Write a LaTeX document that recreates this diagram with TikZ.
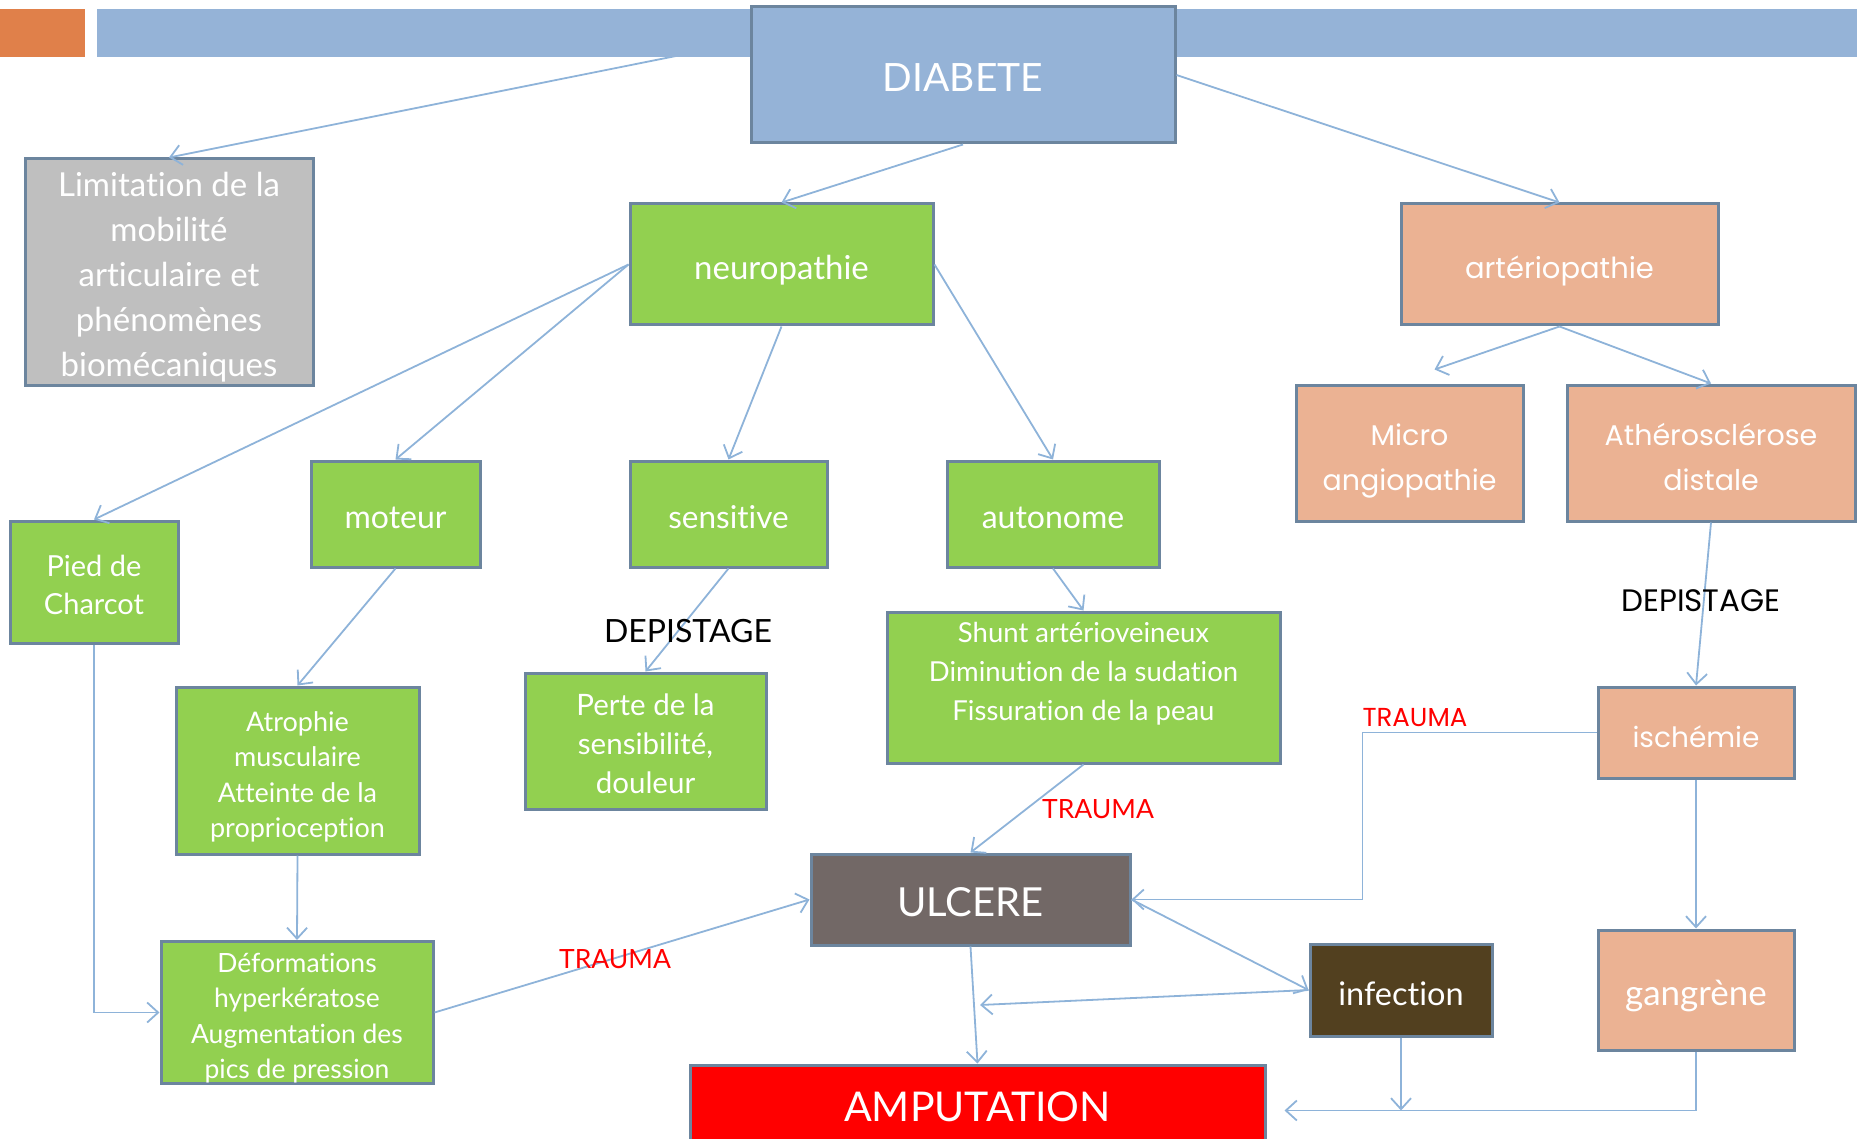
\documentclass[tikz,border=0pt]{standalone}
\usepackage{fontspec}
\usetikzlibrary{arrows.meta,calc}
\setmainfont{Lato}
\newfontfamily\tw[Ligatures={NoCommon}]{Lato}
\newfontfamily\cg[Ligatures={NoCommon}]{Poppins}
\definecolor{bandblue}{HTML}{95B3D7}
\definecolor{bandorange}{HTML}{E0804A}
\definecolor{edge}{HTML}{6C859E}
\definecolor{gfill}{HTML}{92D050}
\definecolor{grayfill}{HTML}{BFBFBF}
\definecolor{ofill}{HTML}{EBB293}
\definecolor{ufill}{HTML}{726866}
\definecolor{ifill}{HTML}{52401F}
\definecolor{conn}{HTML}{8EB3D9}
\newcommand{\fs}[2]{\fontsize{#1}{#2}\selectfont}
\newcommand{\T}[2][-7pt]{\raisebox{#1}[\height][\depth]{\begin{tabular}{@{}c@{}}#2\end{tabular}}}
\tikzset{
  box/.style={draw=edge, line width=3pt, inner sep=0pt, text=white},
  gbox/.style={box, fill=gfill},
  obox/.style={box, fill=ofill},
  link/.style={draw=conn, line width=1.8pt, -{Straight Barb[length=11pt,width=20pt,line width=1.8pt]}},
  redlab/.style={text=red, inner sep=0pt},
  blklab/.style={text=black, inner sep=0pt}
}
\begin{document}
\begin{tikzpicture}[x=1pt,y=-1pt]
\useasboundingbox (0,0) rectangle (1857,1139);
\clip (0,0) rectangle (1857,1139);
\node[box, fill=grayfill, minimum width=288, minimum height=226, font=\tw\fs{33}{45}] (limit) at (169,272) {\T[-6pt]{Limitation de la\\mobilité\\articulaire et\\phénomènes\\biomécaniques}};
\coordinate (dstart) at (751,41);
\draw[link] (dstart) -- (limit.north);
% top band
\fill[bandorange] (0,9.5) rectangle (85,57);
\fill[bandblue] (97,9.5) rectangle (1857,57);
\node[box, fill=bandblue, minimum width=424, minimum height=136, font=\tw\fs{39}{46}] (diabete) at (963,75) {\T{DIABETE}};

\node[gbox, minimum width=303, minimum height=121, font=\tw\fs{33}{40}] (neuro) at (781.5,264.5) {\T{neuropathie}};
\node[obox, minimum width=317, minimum height=121, font=\cg\fs{29}{40}] (arterio) at (1559.5,264.5) {\T[-6pt]{artériopathie}};
\node[obox, minimum width=227, minimum height=136, font=\cg\fs{28.5}{45}] (micro) at (1409.5,453) {\T[-6pt]{Micro\\angiopathie}};
\node[obox, minimum width=288, minimum height=136, font=\cg\fs{28.5}{45}] (athero) at (1711,453) {\T[-6pt]{Athérosclérose\\distale}};
\node[gbox, minimum width=168, minimum height=122, font=\tw\fs{29}{38}] (charcot) at (94,582) {\T[-6pt]{Pied de\\Charcot}};
\node[gbox, minimum width=169, minimum height=106, font=\tw\fs{32}{40}] (moteur) at (395.5,514) {\T[-6pt]{moteur}};
\node[gbox, minimum width=197, minimum height=106, font=\tw\fs{31.5}{40}] (sensitive) at (728.5,514) {\T[-6pt]{sensitive}};
\node[gbox, minimum width=212, minimum height=106, font=\tw\fs{32}{40}] (autonome) at (1053,514) {\T[-6pt]{autonome}};
\node[gbox, minimum width=393, minimum height=151, font=\tw\fs{27.5}{39}] (shunt) at (1083.5,687.5) {\T[14pt]{Shunt artérioveineux\\Diminution de la sudation\\Fissuration de la peau}};
\node[gbox, minimum width=241, minimum height=136, font=\tw\fs{29.5}{39}] (perte) at (645.5,741) {\T[-6pt]{Perte de la\\sensibilité,\\douleur}};
\node[gbox, minimum width=243, minimum height=167, font=\tw\fs{27}{35.5}] (atrophie) at (297.5,770.5) {\T{Atrophie\\musculaire\\Atteinte de la\\proprioception}};
\node[gbox, minimum width=272, minimum height=137, font=\tw\fs{26.5}{35.5}] (deform) at (297,1012.5) {\T[-6pt]{Déformations\\hyperkératose\\Augmentation des\\pics de pression}};
\node[box, fill=ufill, minimum width=319, minimum height=91, font=\tw\fs{40}{46}] (ulcere) at (970.5,899.5) {\T[-8pt]{ULCERE}};
\node[box, fill=ifill, minimum width=182, minimum height=92, font=\tw\fs{32.5}{40}] (infection) at (1401,990) {\T{infection}};
\node[obox, minimum width=196, minimum height=91, font=\cg\fs{28}{40}] (ischemie) at (1696,732.5) {\T{ischémie}};
\node[obox, minimum width=196, minimum height=120, font=\tw\fs{35}{40}] (gangrene) at (1696,990) {\T{gangrène}};
\node[box, fill=red, minimum width=575, minimum height=85, font=\tw\fs{41}{46}] (amput) at (977.5,1107.5) {\T[-5pt]{AMPUTATION}};

% connectors
\draw[link] (diabete.south) -- (neuro.north);
\draw[link] (diabete.east) -- (arterio.north);
\draw[link] (neuro.west) -- (charcot.north);
\draw[link] (neuro.west) -- (moteur.north);
\draw[link] (neuro.south) -- (sensitive.north);
\draw[link] (neuro.east) -- (autonome.north);
\draw[link] (sensitive.south) -- (perte.north);
\draw[link] (autonome.south) -- (shunt.north);
\draw[link] (moteur.south) -- (atrophie.north);
\draw[link] (atrophie.south) -- (deform.north);
\draw[link] (charcot.south) |- (deform.west);
\draw[link] (deform.east) -- (ulcere.west);
\draw[link] (shunt.south) -- (ulcere.north);
\draw[link] (ischemie.west) -- ++(-234,0) |- (ulcere.east);
\draw[link] (ulcere.east) -- (infection.west);
\coordinate (mid) at ($($(ulcere.south)!0.5!(amput.north)$)+(6,0)$);
\draw[link] (infection.west) -- (mid);
\draw[link] (ulcere.south) -- (amput.north);
\coordinate (amptip) at ($(amput.east)+(18,3)$);
\draw[link] (gangrene.south) |- (amptip);
\draw[link] (infection.south) -- (infection.south |- amptip);
\draw[link] (athero.south) -- (ischemie.north);
\draw[link] (ischemie.south) -- (gangrene.north);
\coordinate (microtip) at ($(micro.north)+(25,-14)$);
\draw[link] (arterio.south) -- (microtip);
\draw[link] (arterio.south) -- (athero.north);

% labels
\node[blklab, font=\tw\fs{32}{36}] (dep1) at (688,631) {DEPISTAGE};
\node[blklab, font=\cg\fs{31}{36}] (dep2) at (1701,601) {DEPISTAGE};
\node[redlab, font=\tw\fs{26.5}{32}] (tr1) at (1098,809) {TRAUMA};
\node[redlab, font=\cg\fs{26}{32}] (tr2) at (1415,718) {TRAUMA};
\node[redlab, font=\tw\fs{26.5}{32}] (tr3) at (615,959) {TRAUMA};
\end{tikzpicture}
\end{document}
